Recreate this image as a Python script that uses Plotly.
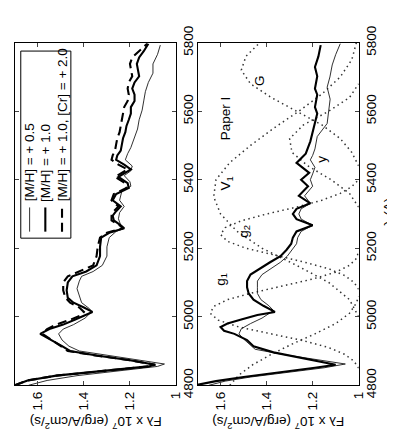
import plotly.graph_objects as go

W, H = 395, 434

# ---------------- data ----------------
# Left panel: thin [M/H]=+0.5, thick [M/H]=+1.0, dashed [M/H]=+1.0,[Cr]=+2.0
L_thick_lam = [4800, 4814, 4828, 4842, 4855, 4860, 4873, 4887, 4900, 4914, 4932, 4950, 4964, 4977, 4991, 5005,
               5014, 5027, 5041, 5055, 5077, 5100, 5118, 5132, 5150, 5177, 5204, 5231, 5245, 5258, 5267, 5281,
               5295, 5308, 5322, 5340, 5358, 5376, 5390, 5408, 5421, 5430, 5444, 5458, 5471, 5485, 5503, 5521,
               5539, 5557, 5575, 5593, 5612, 5630, 5648, 5666, 5684, 5702, 5720, 5738, 5757, 5775, 5797]
L_thick_F = [1.70, 1.645, 1.52, 1.30, 1.12, 1.09, 1.20, 1.345, 1.46, 1.495, 1.545, 1.59, 1.55, 1.49, 1.44, 1.39,
             1.363, 1.40, 1.445, 1.47, 1.475, 1.47, 1.45, 1.39, 1.345, 1.33, 1.33, 1.325, 1.29, 1.225, 1.24, 1.27,
             1.275, 1.26, 1.24, 1.275, 1.26, 1.205, 1.21, 1.25, 1.22, 1.196, 1.225, 1.26, 1.255, 1.24, 1.235, 1.23,
             1.22, 1.215, 1.205, 1.196, 1.196, 1.18, 1.18, 1.19, 1.18, 1.16, 1.165, 1.17, 1.16, 1.14, 1.12]
L_dash_F = [1.70, 1.645, 1.52, 1.30, 1.12, 1.09, 1.20, 1.35, 1.47, 1.50, 1.54, 1.58, 1.56, 1.52, 1.46, 1.41,
            1.40, 1.42, 1.46, 1.48, 1.49, 1.49, 1.47, 1.42, 1.36, 1.345, 1.34, 1.33, 1.30, 1.23, 1.245, 1.28,
            1.28, 1.27, 1.25, 1.28, 1.27, 1.215, 1.22, 1.265, 1.235, 1.21, 1.25, 1.28, 1.275, 1.265, 1.26, 1.255,
            1.245, 1.24, 1.235, 1.23, 1.225, 1.21, 1.205, 1.21, 1.205, 1.19, 1.196, 1.20, 1.19, 1.16, 1.125]
L_thin_lam = [4800, 4814, 4828, 4842, 4855, 4862, 4873, 4887, 4900, 4914, 4932, 4950, 4964, 4977, 4996, 5014,
              5023, 5041, 5059, 5082, 5104, 5118, 5132, 5150, 5177, 5204, 5231, 5249, 5258, 5267, 5286, 5304,
              5322, 5340, 5367, 5381, 5394, 5412, 5426, 5440, 5458, 5476, 5494, 5521, 5548, 5575, 5603, 5630,
              5657, 5684, 5711, 5738, 5766, 5793]
L_thin_F = [1.64, 1.56, 1.43, 1.25, 1.08, 1.05, 1.16, 1.30, 1.42, 1.465, 1.495, 1.51, 1.49, 1.445, 1.395, 1.367,
            1.375, 1.41, 1.42, 1.43, 1.42, 1.41, 1.36, 1.32, 1.30, 1.30, 1.29, 1.26, 1.225, 1.24, 1.25, 1.245,
            1.225, 1.245, 1.235, 1.196, 1.20, 1.225, 1.196, 1.19, 1.22, 1.21, 1.196, 1.18, 1.167, 1.16, 1.147, 1.14,
            1.133, 1.12, 1.10, 1.10, 1.08, 1.068]

# Right panel: thick and thin spectra
R_thick_lam = [4800, 4812, 4824, 4837, 4851, 4860, 4878, 4896, 4914, 4932, 4950, 4959, 4970, 4980, 4991, 5005,
               5014, 5032, 5050, 5068, 5086, 5104, 5123, 5141, 5159, 5177, 5195, 5213, 5231, 5249, 5267, 5285,
               5300, 5315, 5331, 5353, 5381, 5400, 5420, 5449, 5476, 5512, 5539, 5575, 5593, 5612, 5648, 5666,
               5702, 5729, 5760, 5793]
R_thick_F = [1.71, 1.62, 1.50, 1.34, 1.19, 1.10, 1.243, 1.37, 1.457, 1.485, 1.54, 1.585, 1.60, 1.57, 1.514, 1.44,
             1.364, 1.414, 1.457, 1.478, 1.485, 1.485, 1.47, 1.43, 1.385, 1.34, 1.314, 1.293, 1.286, 1.27, 1.20, 1.27,
             1.286, 1.27, 1.21, 1.26, 1.22, 1.25, 1.215, 1.27, 1.23, 1.21, 1.20, 1.19, 1.18, 1.19, 1.18, 1.19,
             1.18, 1.19, 1.175, 1.165]
R_thin_lam = [4800, 4812, 4824, 4837, 4851, 4862, 4875, 4890, 4905, 4920, 4935, 4950, 4965, 4980, 4996, 5018,
              5032, 5050, 5068, 5086, 5104, 5123, 5141, 5159, 5177, 5195, 5213, 5231, 5249, 5267, 5285, 5300,
              5315, 5331, 5353, 5381, 5400, 5417, 5436, 5458, 5471, 5490, 5526, 5564, 5600, 5635, 5670, 5700,
              5735, 5765, 5797]
R_thin_F = [1.65, 1.58, 1.47, 1.31, 1.15, 1.058, 1.18, 1.33, 1.45, 1.475, 1.50, 1.52, 1.51, 1.47, 1.42, 1.37,
            1.39, 1.425, 1.44, 1.44, 1.44, 1.42, 1.38, 1.34, 1.31, 1.29, 1.27, 1.265, 1.25, 1.20, 1.25, 1.26,
            1.25, 1.21, 1.235, 1.20, 1.21, 1.20, 1.19, 1.21, 1.20, 1.19, 1.18, 1.137, 1.13, 1.124, 1.137, 1.125,
            1.115, 1.10, 1.08]

# Filter transmission curves (dotted), scaled onto the flux axis
B2_lam = [4800, 4830, 4860, 4890, 4920, 4950, 4980, 5010, 5040, 5060]
B2_F = [1.56, 1.52, 1.46, 1.38, 1.29, 1.19, 1.10, 1.04, 1.01, 1.00]
g1_lam = [4850, 4870, 4890, 4910, 4930, 4950, 4970, 4990, 5010, 5030, 5050, 5070, 5090, 5110, 5130, 5150, 5170, 5190]
g1_F = [1.00, 1.02, 1.06, 1.13, 1.24, 1.38, 1.52, 1.61, 1.645, 1.63, 1.57, 1.46, 1.33, 1.20, 1.10, 1.04, 1.01, 1.00]
g2_lam = [5080, 5100, 5120, 5140, 5160, 5180, 5200, 5220, 5240, 5260, 5280, 5300, 5320, 5340, 5360, 5380, 5400]
g2_F = [1.00, 1.02, 1.06, 1.13, 1.24, 1.37, 1.49, 1.57, 1.60, 1.58, 1.51, 1.40, 1.27, 1.16, 1.08, 1.03, 1.00]
V1_lam = [5000, 5050, 5100, 5150, 5200, 5250, 5300, 5350, 5400, 5450, 5500, 5550, 5600, 5650, 5700, 5750, 5800]
V1_F = [1.00, 1.04, 1.13, 1.27, 1.42, 1.53, 1.60, 1.63, 1.62, 1.56, 1.47, 1.37, 1.26, 1.16, 1.08, 1.03, 1.01]
y_lam = [5320, 5360, 5400, 5440, 5480, 5520, 5560, 5600, 5640, 5680]
y_F = [1.00, 1.04, 1.12, 1.22, 1.29, 1.30, 1.24, 1.13, 1.04, 1.00]
G_lam = [5440, 5480, 5520, 5560, 5600, 5640, 5680, 5720, 5760, 5800]
G_F = [1.00, 1.03, 1.08, 1.16, 1.27, 1.38, 1.47, 1.51, 1.49, 1.43]

lam_ticks = [4800, 5000, 5200, 5400, 5600, 5800]
flux_ticks = [1.0, 1.2, 1.4, 1.6]
flux_ticktext = ["1", "1.2", "1.4", "1.6"]

legend_labels = ["[M/H] = + 0.5", "[M/H] = + 1.0", "[M/H] = + 1.0, [Cr] = + 2.0"]
filter_labels = ["g<sub>1</sub>", "g<sub>2</sub>", "V<sub>1</sub>", "Paper I", "y", "G"]
filter_label_lam = [5110, 5250, 5390, 5580, 5460, 5690]
filter_label_F = [1.60, 1.50, 1.575, 1.58, 1.165, 1.43]

# ---------------- layout helpers ----------------
FONT = "Liberation Sans, Arial, Helvetica, sans-serif"
FS = 13.5


def px(x):
    return x / W


def py(y):
    return 1 - y / H


THIN = dict(color="#1a1a1a", width=0.9)
THICK = dict(color="black", width=2.1)
DASH = dict(color="black", width=2.1, dash="9px,5px")
DOT = dict(color="#333333", width=1.5, dash="1.5px,3.5px")

fig = go.Figure()
# left panel
fig.add_trace(go.Scatter(x=L_thin_F, y=L_thin_lam, mode="lines", line=THIN, xaxis="x", yaxis="y"))
fig.add_trace(go.Scatter(x=L_thick_F, y=L_thick_lam, mode="lines", line=THICK, xaxis="x", yaxis="y"))
fig.add_trace(go.Scatter(x=L_dash_F, y=L_thick_lam, mode="lines", line=DASH, xaxis="x", yaxis="y"))
# right panel
for fl, ff in [(B2_lam, B2_F), (g1_lam, g1_F), (g2_lam, g2_F), (V1_lam, V1_F), (y_lam, y_F), (G_lam, G_F)]:
    fig.add_trace(go.Scatter(x=ff, y=fl, mode="lines", line=DOT, xaxis="x2", yaxis="y2"))
fig.add_trace(go.Scatter(x=R_thin_F, y=R_thin_lam, mode="lines", line=THIN, xaxis="x2", yaxis="y2"))
fig.add_trace(go.Scatter(x=R_thick_F, y=R_thick_lam, mode="lines", line=THICK, xaxis="x2", yaxis="y2"))

ydom = [py(387), py(19)]
common_x = dict(range=[1.7, 1.0], tickvals=flux_ticks, ticktext=flux_ticktext, tickangle=-90,
                ticks="inside", ticklen=4, mirror="ticks", showline=True, linecolor="black", linewidth=1,
                showgrid=False, zeroline=False, tickfont=dict(family=FONT, size=FS, color="black"))
common_y = dict(range=[4800, 5800], tickvals=lam_ticks, tickangle=-90, side="right",
                ticks="inside", ticklen=4, mirror="ticks", showline=True, linecolor="black", linewidth=1,
                showgrid=False, zeroline=False, tickfont=dict(family=FONT, size=FS, color="black"))

fig.update_layout(
    width=W, height=H, margin=dict(l=0, r=0, t=0, b=0),
    paper_bgcolor="white", plot_bgcolor="white", showlegend=False,
    xaxis=dict(common_x, domain=[px(7), px(171)], anchor="y"),
    yaxis=dict(common_y, domain=ydom, anchor="x"),
    xaxis2=dict(common_x, domain=[px(193), px(357)], anchor="y2"),
    yaxis2=dict(common_y, domain=ydom, anchor="x2"),
)

ann = []
# axis titles
for cx in (89, 275):
    ann.append(dict(x=px(cx), y=py(427), xref="paper", yref="paper", showarrow=False, textangle=180,
                    text="F\u03bb x 10<sup>7</sup> (erg/A/cm<sup>2</sup>/s)",
                    font=dict(family=FONT, size=FS, color="black"), xanchor="center", yanchor="middle"))
ann.append(dict(x=px(387), y=py(201), xref="paper", yref="paper", showarrow=False, textangle=-90,
                text="\u03bb (A)", font=dict(family=FONT, size=FS, color="black"),
                xanchor="center", yanchor="middle"))
# filter labels
for t, lm, ff in zip(filter_labels, filter_label_lam, filter_label_F):
    ann.append(dict(x=ff, y=lm, xref="x2", yref="y2", showarrow=False, textangle=-90, text=t,
                    font=dict(family=FONT, size=FS, color="black"), xanchor="center", yanchor="middle"))

# legend (drawn rotated like the rest of the figure)
shapes = [dict(type="rect", xref="paper", yref="paper", x0=px(13), x1=px(64), y0=py(229), y1=py(28),
               line=dict(color="black", width=1), fillcolor="white", layer="above")]
leg_x = [22, 38, 55]
leg_styles = [THIN, THICK, DASH]
for lx, st, lab in zip(leg_x, leg_styles, legend_labels):
    shapes.append(dict(type="line", xref="paper", yref="paper", x0=px(lx), x1=px(lx), y0=py(222), y1=py(196),
                       line=st, layer="above"))
    ann.append(dict(x=px(lx), y=py(192), xref="paper", yref="paper", showarrow=False, textangle=-90,
                    text=lab, font=dict(family=FONT, size=FS, color="black"),
                    xanchor="center", yanchor="bottom"))

fig.update_layout(annotations=ann, shapes=shapes)
fig.write_html("out.html")
